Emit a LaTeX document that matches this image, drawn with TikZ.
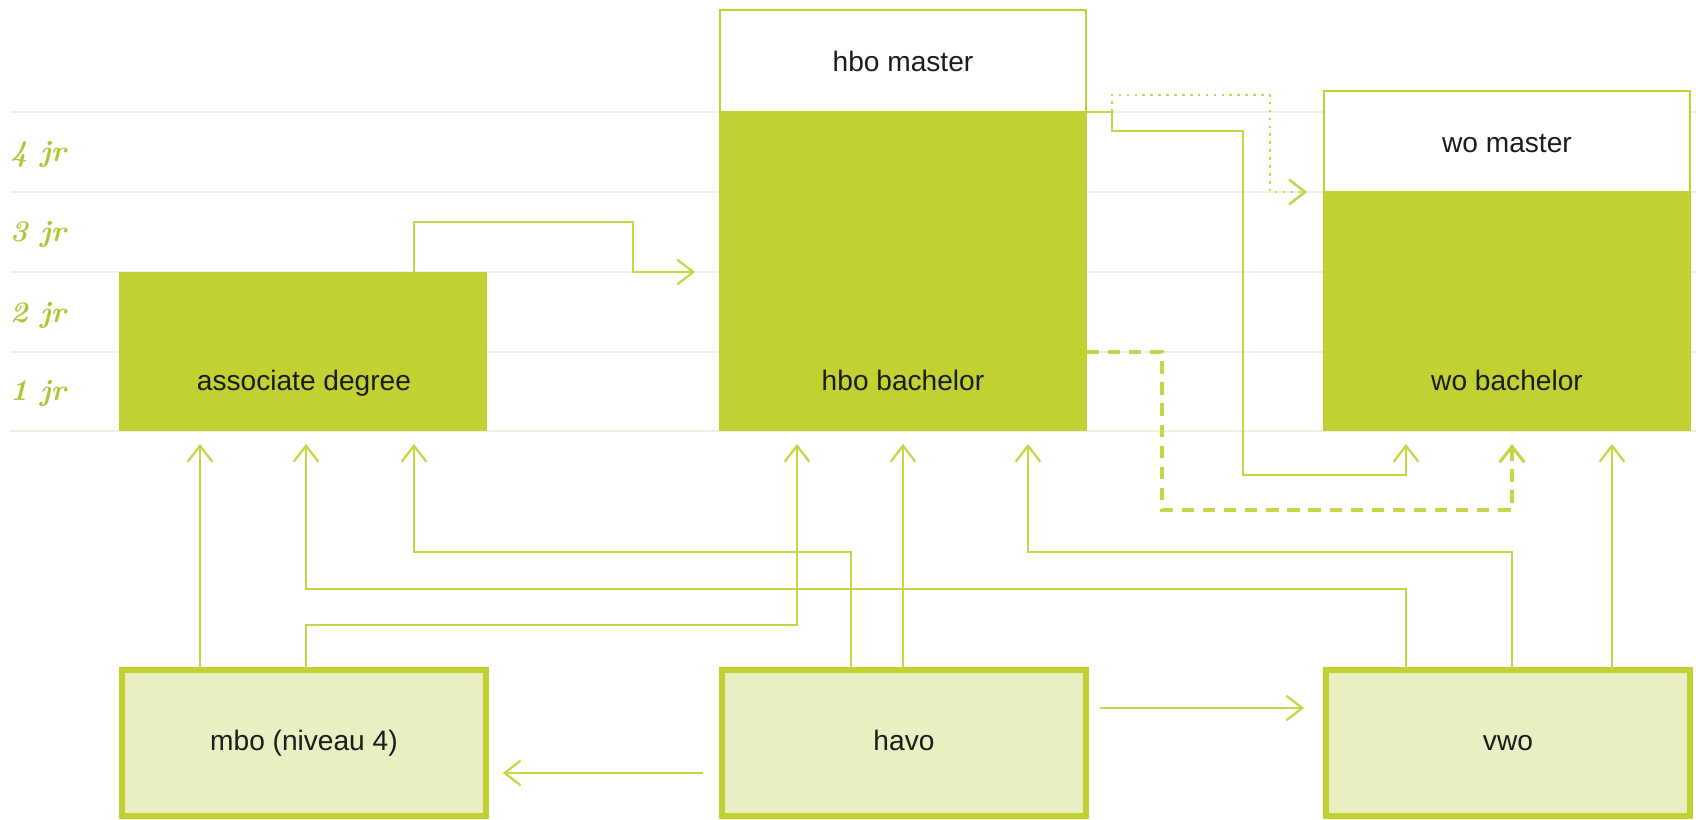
\documentclass[tikz,border=0pt]{standalone}
\usepackage{fontspec}
\newfontfamily\boxfont{Liberation Sans}
\usetikzlibrary{%
  arrows.meta,
  calc,
  positioning
}
\definecolor{lime}{RGB}{193,209,50}
\definecolor{limeline}{RGB}{198,214,72}
\definecolor{limepale}{RGB}{233,239,192}
\definecolor{gridgrey}{RGB}{237,240,228}
\definecolor{jrgreen}{RGB}{176,197,52}
\definecolor{ink}{RGB}{28,28,28}
\tikzset{>={Straight Barb[length=9pt,width=14pt]}}
\tikzset{
  lvl/.style={fill=lime, inner sep=0pt, outer sep=0pt, anchor=north west},
  mastr/.style={fill=white, draw=lime, line width=1.6pt, inner sep=0pt, outer sep=0pt,
    anchor=north west, text height=12pt, text depth=0pt,
    font=\boxfont\fontsize{16}{19}\selectfont, text=ink},
  school/.style={fill=limepale, draw=lime, line width=3.4pt, inner sep=0pt, outer sep=0pt,
    anchor=north west, minimum width=7.28cm, minimum height=2.92cm,
    text height=9pt, text depth=0pt,
    font=\boxfont\fontsize{16}{19}\selectfont, text=ink},
  txt/.style={anchor=base, inner sep=0pt, font=\boxfont\fontsize{16}{19}\selectfont, text=ink},
  jr/.style={font=\fontsize{17}{20}\selectfont\bfseries\itshape, text=jrgreen},
  conn/.style={draw=limeline, line width=1.3pt},
  up/.style={conn, ->, shorten >=7.4pt},
  dotline/.style={dash pattern=on 1.5pt off 3pt, line width=1.5pt},
  dashline/.style={dash pattern=on 7pt off 5pt, line width=1.8pt}
}

\begin{document}
\begin{tikzpicture}[x=0.02cm, y=-0.02cm]
  \useasboundingbox (0,0) rectangle (1696,819);

  \foreach \y in {112,192,272,352,431}
    \draw[gridgrey, line width=0.8pt] (10,\y) -- (1696,\y);
  \foreach \n/\y in {4/154,3/234,2/315,1/393}
    \node[jr] (jr\n) at (38,\y) {\n\ jr};

  \node[lvl, minimum width=7.36cm, minimum height=3.18cm] (assoc) at (119,272) {};
  \node[lvl, minimum width=7.36cm, minimum height=6.38cm] (hbob) at (719,112) {};
  \node[mastr, minimum width=7.32cm, minimum height=2.04cm] (hbom) at (720,10) {hbo master};
  \node[lvl, minimum width=7.36cm, minimum height=4.78cm] (wob) at (1323,192) {};
  \node[mastr, minimum width=7.32cm, minimum height=2.02cm] (wom) at (1324,91) {wo master};

  \node[txt] (assoc-t) at (304,390) {associate degree};
  \node[txt] (hbob-t) at (903,390) {hbo bachelor};
  \node[txt] (wob-t) at (1507,390) {wo bachelor};

  \node[school] (mbo) at (122,670) {mbo (niveau 4)};
  \node[school] (havo) at (722,670) {havo};
  \node[school] (vwo) at (1326,670) {vwo};

  \coordinate (k1) at (200,0);
  \coordinate (k2) at (306,0);
  \coordinate (k3) at (414,0);
  \coordinate (k4) at (797,0);
  \coordinate (k5) at (851,0);
  \coordinate (k6) at (903,0);
  \coordinate (k7) at (1028,0);
  \coordinate (k8) at (1406,0);
  \coordinate (k9) at (1512,0);
  \coordinate (k10) at (1612,0);
  \coordinate (r1) at (0,552);
  \coordinate (r2) at (0,589);
  \coordinate (r3) at (0,625);
  \coordinate (r4) at (0,773);
  \coordinate (r5) at (0,708);
  \coordinate (u1) at (633,222);
  \coordinate (s1) at (1112,131);
  \coordinate (s2) at (1243,475);
  \coordinate (d1) at (1112,95);
  \coordinate (d2) at (1270,192);
  \coordinate (e0) at (1162,352);
  \coordinate (e1) at (1512,510);

  \draw[conn,->,shorten >=13.6pt] (assoc.north -| k3) |- (u1) |- (hbob.west |- assoc.north);
  \draw[up] (hbob.north east) -| (s1) -| (s2) -| (wob.south -| k8);
  \draw[conn,dotline,->,shorten >=9pt] (hbob.north east -| d1) -- (d1) -| (d2) -- (wob.north west);
  \draw[conn,dashline,->,shorten >=7.4pt] (e0 -| hbob.east) -- (e0) |- (e1) -- (wob.south -| e1);

  \draw[up] (mbo.north -| k1) -- (assoc.south -| k1);
  \draw[up] (mbo.north -| k2) -- (k2 |- r3) -| (hbob.south -| k4);
  \draw[up] (havo.north -| k5) -- (k5 |- r1) -| (assoc.south -| k3);
  \draw[up] (havo.north -| k6) -- (hbob.south -| k6);
  \draw[up] (vwo.north -| k8) -- (k8 |- r2) -| (assoc.south -| k2);
  \draw[up] (vwo.north -| k9) -- (k9 |- r1) -| (hbob.south -| k7);
  \draw[up] (vwo.north -| k10) -- (wob.south -| k10);
  \draw[conn,->,shorten <=10.8pt,shorten >=9.6pt] (havo.west |- r4) -- (mbo.east |- r4);
  \draw[conn,->,shorten <=8pt,shorten >=12.5pt] (havo.east |- r5) -- (vwo.west |- r5);

\end{tikzpicture}
\end{document}
